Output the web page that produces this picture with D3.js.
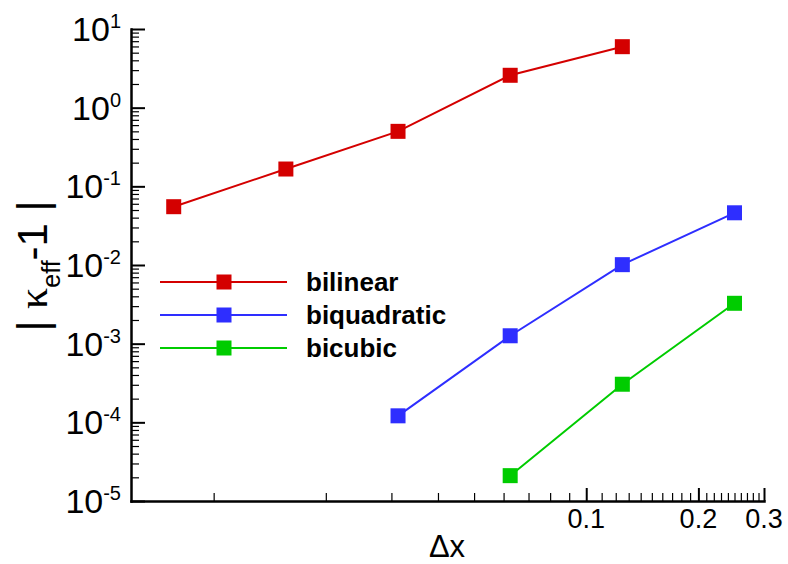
<!DOCTYPE html>
<html>
<head>
<meta charset="utf-8">
<script src="https://cdn.jsdelivr.net/npm/d3@7"></script>
<style>
  html, body { margin: 0; padding: 0; background: #fff; }
  svg { display: block; }
  text { font-family: "Liberation Sans", Arial, sans-serif; fill: #000; }
</style>
</head>
<body>
<svg id="chart" width="788" height="564"></svg>
<script>
// Grid spacing and |kappa_eff - 1| error for each interpolation scheme
const seriesNames = ["bilinear", "biquadratic", "bicubic"];
const seriesColors = ["#d40000", "#2e2eff", "#00cc00"];

const dxBilinear = [0.0078125, 0.015625, 0.03125, 0.0625, 0.125];
const errBilinear = [0.0551, 0.166, 0.500, 2.58, 5.96];

const dxBiquadratic = [0.03125, 0.0625, 0.125, 0.25];
const errBiquadratic = [1.21e-4, 1.26e-3, 1.01e-2, 4.61e-2];

const dxBicubic = [0.0625, 0.125, 0.25];
const errBicubic = [2.10e-5, 3.05e-4, 3.26e-3];

// Axis ticks
const xMajorTicks = [0.1, 0.2, 0.3];
const xTickLabels = ["0.1", "0.2", "0.3"];
const xMinorTicks = [0.01, 0.02, 0.03, 0.04, 0.05, 0.06, 0.07, 0.08, 0.09,
  0.11, 0.12, 0.13, 0.14, 0.15, 0.16, 0.17, 0.18, 0.19,
  0.21, 0.22, 0.23, 0.24, 0.25, 0.26, 0.27, 0.28, 0.29];
const yMajorTicks = [1e-5, 1e-4, 1e-3, 1e-2, 1e-1, 1e0, 1e1];
const yTickExponents = ["-5", "-4", "-3", "-2", "-1", "0", "1"];
const yMinorMultipliers = [2, 3, 4, 5, 6, 7, 8, 9];

const series = [
  { name: seriesNames[0], color: seriesColors[0], dx: dxBilinear, err: errBilinear },
  { name: seriesNames[1], color: seriesColors[1], dx: dxBiquadratic, err: errBiquadratic },
  { name: seriesNames[2], color: seriesColors[2], dx: dxBicubic, err: errBicubic }
];

const svg = d3.select("#chart");

const x = d3.scaleLog().domain([0.006, 0.3]).range([131, 764]);
const y = d3.scaleLog().domain([1e-5, 10]).range([501, 29]);

const yMinorTicks = [];
yMajorTicks.slice(0, -1).forEach(p => yMinorMultipliers.forEach(m => yMinorTicks.push(p * m)));

// Minor ticks (inward)
svg.append("g")
  .attr("transform", `translate(0,${y.range()[0]})`)
  .call(d3.axisBottom(x).tickValues(xMinorTicks).tickSize(-8).tickSizeOuter(0).tickFormat(""))
  .call(g => g.select(".domain").remove())
  .call(g => g.selectAll(".tick line").attr("stroke", "#000").attr("stroke-width", 1.2));

svg.append("g")
  .attr("transform", `translate(${x.range()[0]},0)`)
  .call(d3.axisLeft(y).tickValues(yMinorTicks).tickSize(-8).tickSizeOuter(0).tickFormat(""))
  .call(g => g.select(".domain").remove())
  .call(g => g.selectAll(".tick line").attr("stroke", "#000").attr("stroke-width", 1.2));

// Major ticks and axis lines
const xAxisG = svg.append("g")
  .attr("transform", `translate(0,${y.range()[0]})`)
  .call(d3.axisBottom(x).tickValues(xMajorTicks).tickSize(-13).tickSizeOuter(0).tickFormat(""));
xAxisG.selectAll(".tick line").attr("stroke", "#000").attr("stroke-width", 2);
xAxisG.select(".domain").attr("stroke", "#000").attr("stroke-width", 2.5).attr("stroke-linecap", "square");

const yAxisG = svg.append("g")
  .attr("transform", `translate(${x.range()[0]},0)`)
  .call(d3.axisLeft(y).tickValues(yMajorTicks).tickSize(-14).tickSizeOuter(0).tickFormat(""));
yAxisG.selectAll(".tick line").attr("stroke", "#000").attr("stroke-width", 2);
yAxisG.select(".domain").attr("stroke", "#000").attr("stroke-width", 2.5).attr("stroke-linecap", "square");

// X tick labels
svg.append("g").selectAll("text")
  .data(xMajorTicks)
  .join("text")
  .attr("x", d => x(d))
  .attr("y", 528)
  .attr("text-anchor", "middle")
  .attr("font-size", 27)
  .text((d, i) => xTickLabels[i]);

// Y tick labels as powers of ten
const yLabels = svg.append("g").selectAll("text")
  .data(yMajorTicks)
  .join("text")
  .attr("x", 121)
  .attr("y", d => y(d) + 12)
  .attr("text-anchor", "end")
  .attr("font-size", 34);
yLabels.append("tspan").text("10");
yLabels.append("tspan")
  .attr("font-size", 20)
  .attr("dy", -13)
  .text((d, i) => yTickExponents[i]);

// Series lines and square markers
const line = d3.line().x(d => x(d[0])).y(d => y(d[1]));
const markerSize = 15;

series.forEach(s => {
  const pts = s.dx.map((d, i) => [d, s.err[i]]);
  svg.append("path")
    .datum(pts)
    .attr("d", line)
    .attr("fill", "none")
    .attr("stroke", s.color)
    .attr("stroke-width", 2);
  svg.append("g").selectAll("rect")
    .data(pts)
    .join("rect")
    .attr("x", d => x(d[0]) - markerSize / 2)
    .attr("y", d => y(d[1]) - markerSize / 2)
    .attr("width", markerSize)
    .attr("height", markerSize)
    .attr("fill", s.color);
});

// Legend
const legend = svg.append("g");
series.forEach((s, i) => {
  const ly = 282 + i * 33;
  legend.append("line")
    .attr("x1", 160).attr("x2", 287)
    .attr("y1", ly).attr("y2", ly)
    .attr("stroke", s.color).attr("stroke-width", 2);
  legend.append("rect")
    .attr("x", 224 - markerSize / 2).attr("y", ly - markerSize / 2)
    .attr("width", markerSize).attr("height", markerSize)
    .attr("fill", s.color);
  legend.append("text")
    .attr("x", 306).attr("y", ly + 9)
    .attr("font-size", 26).attr("font-weight", "bold")
    .text(s.name);
});

// Axis titles
svg.append("text")
  .attr("x", 447).attr("y", 557)
  .attr("text-anchor", "middle")
  .attr("font-size", 31)
  .text("Δx");

const yTitle = svg.append("text")
  .attr("transform", "translate(47,266) rotate(-90)")
  .attr("text-anchor", "middle")
  .attr("font-size", 42);
yTitle.append("tspan").text("| ");
yTitle.append("tspan").attr("font-family", "'Liberation Serif', 'Times New Roman', serif").text("κ");
yTitle.append("tspan").attr("font-size", 25).attr("dy", 13).text("eff");
yTitle.append("tspan").attr("dy", -13).text("-1 |");
</script>
</body>
</html>
